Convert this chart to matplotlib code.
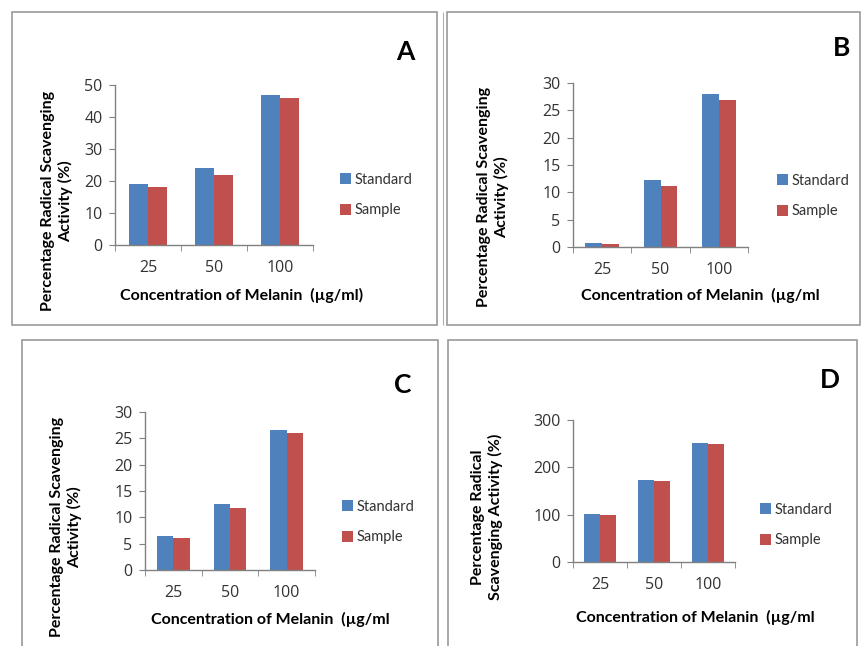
import matplotlib
matplotlib.use("Agg")
import matplotlib.pyplot as plt
from matplotlib.patches import Rectangle
import numpy as np

plt.rcParams["font.family"] = ["Lato", "DejaVu Sans"]

concentrations = ["25", "50", "100"]
series_names = ["Standard", "Sample"]

standard_a = [19, 24, 47]
sample_a = [18, 22, 46]
standard_b = [0.8, 12.3, 28.0]
sample_b = [0.5, 11.2, 26.9]
standard_c = [6.5, 12.5, 26.6]
sample_c = [6.1, 11.7, 26.0]
standard_d = [101, 174, 252]
sample_d = [99, 171, 249]

BLUE = "#4F81BD"
RED = "#C0504D"
W, H = 863, 646

fig = plt.figure(figsize=(W / 100, H / 100), dpi=100)
fig.patch.set_facecolor("white")


def rect(x0, y0, x1, y1):
    # pixel box (top-left origin) -> figure fraction
    return [x0 / W, 1 - y1 / H, (x1 - x0) / W, (y1 - y0) / H]


def fx(x):
    return x / W


def fy(y):
    return 1 - y / H


# panel frames
for x0, y0, x1, y1 in [(12, 12, 437, 325), (447, 12, 860, 325),
                       (22, 340, 438, 660), (448, 340, 857, 660)]:
    fig.patches.append(Rectangle((fx(x0), fy(y1)), fx(x1 - x0), (y1 - y0) / H,
                                 transform=fig.transFigure, fill=False,
                                 edgecolor="#9A9A9A", linewidth=1.2))
fig.patches.append(Rectangle((fx(443), fy(325)), 0, 313 / H, transform=fig.transFigure,
                             fill=False, edgecolor="#B0B0B0", linewidth=0.8))

panels = [
    dict(box=(115, 85, 313, 245), std=standard_a, smp=sample_a, ymax=50, step=10,
         letter="A", lxy=(405, 52), leg=(340, 195),
         ylab="Percentage Radical Scavenging\nActivity (%)", yl=(57, 201),
         xlab="Concentration of Melanin  (µg/ml)", xl=(242, 295)),
    dict(box=(573, 83, 748, 247), std=standard_b, smp=sample_b, ymax=30, step=5,
         letter="B", lxy=(842, 48), leg=(777, 196),
         ylab="Percentage Radical Scavenging\nActivity (%)", yl=(493, 197),
         xlab="Concentration of Melanin  (µg/ml", xl=(700, 295)),
    dict(box=(145, 412, 315, 570), std=standard_c, smp=sample_c, ymax=30, step=5,
         letter="C", lxy=(403, 385), leg=(342, 522),
         ylab="Percentage Radical Scavenging\nActivity (%)", yl=(66, 527),
         xlab="Concentration of Melanin  (µg/ml", xl=(270, 619)),
    dict(box=(573, 420, 735, 562), std=standard_d, smp=sample_d, ymax=300, step=100,
         letter="D", lxy=(830, 380), leg=(760, 525),
         ylab="Percentage Radical\nScavenging Activity (%)", yl=(487, 517),
         xlab="Concentration of Melanin  (µg/ml", xl=(695, 617)),
]

x = np.arange(len(concentrations))
bw = 0.29

for p in panels:
    ax = fig.add_axes(rect(*p["box"]))
    ax.bar(x - bw / 2, p["std"], bw, color=BLUE, label=series_names[0])
    ax.bar(x + bw / 2, p["smp"], bw, color=RED, label=series_names[1])
    ax.set_xlim(-0.5, len(concentrations) - 0.5)
    ax.set_ylim(0, p["ymax"])
    ax.set_yticks(np.arange(0, p["ymax"] + 1, p["step"]))
    ax.set_xticks(x)
    ax.set_xticklabels(concentrations)
    ax.set_xticks(np.arange(-0.5, len(concentrations)), minor=True)
    ax.tick_params(axis="both", which="both", labelsize=11.5,
                   labelfontfamily="Open Sans", labelcolor="#333333")
    ax.tick_params(axis="x", which="major", length=0, pad=11)
    ax.tick_params(axis="x", which="minor", length=4, color="#808080")
    ax.tick_params(axis="y", length=4, color="#808080", pad=5)
    for s in ["top", "right"]:
        ax.spines[s].set_visible(False)
    for s in ["left", "bottom"]:
        ax.spines[s].set_color("#808080")
        ax.spines[s].set_linewidth(1.0)
    ax.set_facecolor("none")

    ax.legend(loc="center left", bbox_to_anchor=(fx(p["leg"][0]), fy(p["leg"][1])),
              bbox_transform=fig.transFigure, frameon=False, fontsize=10.5,
              handlelength=0.75, handleheight=0.75, handletextpad=0.25,
              labelspacing=1.15, borderpad=0, borderaxespad=0,
              labelcolor="#333333")

    fig.text(fx(p["lxy"][0]), fy(p["lxy"][1]), p["letter"], fontsize=19,
             fontweight="bold", ha="center", va="center")
    fig.text(fx(p["yl"][0]), fy(p["yl"][1]), p["ylab"], rotation=90, fontsize=11.5,
             fontweight="bold", ha="center", va="center", linespacing=1.2)
    fig.text(fx(p["xl"][0]), fy(p["xl"][1]), p["xlab"], fontsize=11.5,
             fontweight="bold", ha="center", va="center")

fig.savefig("out.png", dpi=100)
